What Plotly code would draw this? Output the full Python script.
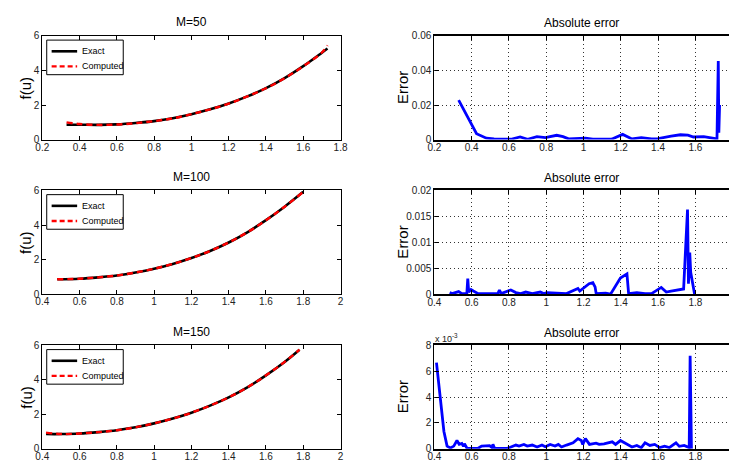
import plotly.graph_objects as go

# ---------------- data ----------------
# f(u): exact curve and computed approximation for three grid sizes
U50 = [0.33, 0.4, 0.5, 0.6, 0.7, 0.8, 0.9, 1.0, 1.1, 1.2, 1.3, 1.4, 1.5, 1.6, 1.7, 1.73]
EXACT50 = [0.86, 0.86, 0.85, 0.88, 0.96, 1.07, 1.24, 1.47, 1.75, 2.09, 2.5, 2.98, 3.56, 4.25, 5.03, 5.27]
COMPUTED50 = [1.0, 0.9, 0.85, 0.87, 0.95, 1.07, 1.23, 1.47, 1.75, 2.08, 2.5, 2.97, 3.55, 4.24, 5.04, 5.45]

U100 = [0.48, 0.6, 0.7, 0.8, 0.9, 1.0, 1.1, 1.2, 1.3, 1.4, 1.5, 1.6, 1.7, 1.8]
EXACT100 = [0.86, 0.89, 0.97, 1.08, 1.25, 1.47, 1.75, 2.09, 2.5, 2.99, 3.58, 4.28, 5.06, 5.92]
COMPUTED100 = [0.86, 0.89, 0.97, 1.08, 1.25, 1.47, 1.75, 2.09, 2.5, 2.99, 3.58, 4.28, 5.06, 5.92]

U150 = [0.42, 0.5, 0.6, 0.7, 0.8, 0.9, 1.0, 1.1, 1.2, 1.3, 1.4, 1.5, 1.6, 1.7, 1.78]
EXACT150 = [0.85, 0.85, 0.88, 0.96, 1.07, 1.24, 1.47, 1.75, 2.09, 2.5, 2.98, 3.56, 4.26, 5.04, 5.75]
COMPUTED150 = [0.93, 0.85, 0.88, 0.96, 1.07, 1.24, 1.47, 1.75, 2.09, 2.5, 2.98, 3.56, 4.26, 5.04, 5.75]

# absolute error |exact - computed|
ERR50_U = [0.33, 0.426, 0.479, 0.52, 0.61, 0.66, 0.70, 0.75, 0.795, 0.856,
           0.89, 0.92, 1.01, 1.05, 1.15, 1.21, 1.26, 1.31, 1.365, 1.40,
           1.47, 1.52, 1.56, 1.59, 1.645, 1.707, 1.716, 1.723, 1.726, 1.73]
ERR50 = [0.0228, 0.0034, 0.0008, 0.0004, 0.0002, 0.0015, 0.0002, 0.0017, 0.0011, 0.0025,
         0.0017, 0.0004, 0.0008, 0.0002, 0.0002, 0.003, 0.0004, 0.0011, 0.0004, 0.0006,
         0.002, 0.0028, 0.0026, 0.0015, 0.0017, 0.0006, 0.0004, 0.0455, 0.004, 0.02]

ERR100_U = [0.482, 0.495, 0.53, 0.547, 0.574, 0.579, 0.584, 0.596, 0.609, 0.635,
            0.74, 0.749, 0.758, 0.81, 0.837, 0.863, 0.89, 0.907, 0.925, 0.968,
            0.986, 1.004, 1.109, 1.17, 1.18, 1.23, 1.25, 1.262, 1.268, 1.319,
            1.345, 1.398, 1.433, 1.442, 1.486, 1.53, 1.565, 1.617, 1.644, 1.67,
            1.723, 1.737, 1.758, 1.763, 1.77, 1.775, 1.796]
ERR100 = [0.0003, 0.0001, 0.0005, 0.0001, 0.0001, 0.003, 0.0004, 0.0009, 0.0006, 0.0001,
          0.0001, 0.0008, 0.0001, 0.0008, 0.0003, 0.0001, 0.0004, 0.0003, 0.0001, 0.0004,
          0.0001, 0.0003, 0.0001, 0.0011, 0.0006, 0.002, 0.0022, 0.0014, 0.0001, 0.0002,
          0.0, 0.0031, 0.0039, 0.0001, 0.0003, 0.0001, 0.0001, 0.0013, 0.0004, 0.0006,
          0.0009, 0.001, 0.0163, 0.002, 0.008, 0.0042, 0.0]

# M=150 error, in units of 1e-3
ERR150_U = [0.411, 0.433, 0.451, 0.468, 0.486, 0.504, 0.521, 0.533, 0.547, 0.556,
            0.561, 0.574, 0.635, 0.653, 0.696, 0.709, 0.714, 0.723, 0.793, 0.837,
            0.854, 0.88, 0.898, 0.925, 0.951, 0.977, 0.995, 1.021, 1.047, 1.065,
            1.082, 1.109, 1.144, 1.17, 1.188, 1.196, 1.21, 1.232, 1.267, 1.284,
            1.31, 1.354, 1.372, 1.398, 1.42, 1.46, 1.486, 1.51, 1.53, 1.556,
            1.582, 1.609, 1.635, 1.66, 1.696, 1.714, 1.74, 1.767, 1.772, 1.777, 1.779]
ERR150_E3 = [6.67, 3.97, 1.33, 0.2, 0.05, 0.2, 0.63, 0.33, 0.4, 0.18,
             0.38, 0.05, 0.03, 0.2, 0.23, 0.08, 0.33, 0.03, 0.03, 0.28,
             0.2, 0.33, 0.2, 0.28, 0.13, 0.28, 0.15, 0.33, 0.2, 0.33,
             0.13, 0.28, 0.45, 0.78, 0.63, 0.33, 0.78, 0.33, 0.43, 0.33,
             0.38, 0.53, 0.33, 0.63, 0.45, 0.13, 0.25, 0.08, 0.45, 0.25,
             0.33, 0.08, 0.2, 0.08, 0.45, 0.18, 0.25, 0.08, 7.2, 3.2, 0.0]

TITLES_LEFT = ["M=50", "M=100", "M=150"]
TITLE_RIGHT = "Absolute error"

X_TICKS_50 = [0.2, 0.4, 0.6, 0.8, 1.0, 1.2, 1.4, 1.6, 1.8]
X_TICKS = [0.4, 0.6, 0.8, 1.0, 1.2, 1.4, 1.6, 1.8, 2.0]
F_TICKS = [0, 2, 4, 6]
ERR50_TICKS = [0, 0.02, 0.04, 0.06]
ERR100_TICKS = [0, 0.005, 0.01, 0.015, 0.02]
ERR150_TICKS = [0, 2, 4, 6, 8]

# ---------------- layout geometry (pixels) ----------------
W, H = 736, 469
FONT = "Liberation Sans, Arial, Helvetica, sans-serif"


def xp(px):
    return px / W


def yp(py):
    return 1 - py / H


LEFT_X = (36, 340)
RIGHT_X0 = 435.7
PX_PER_UNIT = 190.0
ROWS_Y = [(30.7, 137.1), (189.3, 295.7), (348.3, 454.3)]


def fmt(v):
    return "%g" % v


fig = go.Figure()

left_sets = [
    (U50, EXACT50, COMPUTED50, 0.2, X_TICKS_50),
    (U100, EXACT100, COMPUTED100, 0.4, X_TICKS),
    (U150, EXACT150, COMPUTED150, 0.4, X_TICKS),
]
right_sets = [
    (ERR50_U, ERR50, 0.2, X_TICKS_50, ERR50_TICKS, 0.06),
    (ERR100_U, ERR100, 0.4, X_TICKS, ERR100_TICKS, 0.02),
    (ERR150_U, ERR150_E3, 0.4, X_TICKS, ERR150_TICKS, 8),
]

tickfont = dict(family=FONT, size=10, color="#222")
grid_style = dict(showgrid=True, gridcolor="#333", griddash="1px,3px", gridwidth=1)
X_LABEL_SHIFT = -2
annotations = []
shapes = []

for r in range(3):
    top, bot = ROWS_Y[r]
    yd = [yp(bot), yp(top)]
    li = 2 * r + 1
    ri = 2 * r + 2
    lx = "x" if li == 1 else "x%d" % li
    ly = "y" if li == 1 else "y%d" % li
    rx = "x%d" % ri
    ry = "y%d" % ri

    # ---- left panel: f(u)
    u, ex, co, x0, xt = left_sets[r]
    fig.add_trace(go.Scatter(x=u, y=ex, mode="lines", line=dict(color="black", width=2.6, shape="spline"),
                             xaxis=lx, yaxis=ly, showlegend=False, name="Exact"))
    fig.add_trace(go.Scatter(x=u, y=co, mode="lines",
                             line=dict(color="red", width=2.4, dash="6px,4px", shape="spline"),
                             xaxis=lx, yaxis=ly, showlegend=False, name="Computed"))
    fig.layout["xaxis" if li == 1 else "xaxis%d" % li] = dict(
        domain=[xp(LEFT_X[0]), xp(LEFT_X[1])], range=[x0, x0 + 1.6], anchor=ly,
        tickvals=xt, ticktext=[fmt(v) for v in xt], ticks="inside", ticklen=4,
        tickcolor="black", showline=True, linecolor="black", linewidth=1, mirror="ticks",
        showgrid=False, zeroline=False, tickfont=tickfont, ticklabelstandoff=X_LABEL_SHIFT)
    fig.layout["yaxis" if li == 1 else "yaxis%d" % li] = dict(
        domain=yd, range=[0, 6], anchor=lx,
        tickvals=F_TICKS, ticktext=[fmt(v) for v in F_TICKS], ticks="inside", ticklen=4,
        tickcolor="black", showline=True, linecolor="black", linewidth=1, mirror="ticks",
        showgrid=False, zeroline=False, tickfont=tickfont)

    # ---- right panel: absolute error
    eu, ev, rx0, rxt, ryt, ymax = right_sets[r]
    rx1 = rx0 + (W - RIGHT_X0) / PX_PER_UNIT
    fig.add_trace(go.Scatter(x=eu, y=ev, mode="lines", line=dict(color="#0000ff", width=2.8),
                             xaxis=rx, yaxis=ry, showlegend=False, name="Error"))
    fig.layout["xaxis%d" % ri] = dict(
        domain=[xp(RIGHT_X0), 1.0], range=[rx0, rx1], anchor=ry,
        tickvals=[v for v in rxt if v < rx1], ticktext=[fmt(v) for v in rxt if v < rx1],
        ticks="inside", ticklen=4, tickcolor="black", showline=True, linecolor="black",
        linewidth=1.6, mirror="ticks", zeroline=False, tickfont=tickfont,
        ticklabelstandoff=X_LABEL_SHIFT, **grid_style)
    fig.layout["yaxis%d" % ri] = dict(
        domain=yd, range=[0, ymax], anchor=rx,
        tickvals=ryt, ticktext=[fmt(v) for v in ryt], ticks="inside", ticklen=4,
        tickcolor="black", showline=True, linecolor="black", linewidth=1.2, mirror=False,
        zeroline=False, tickfont=tickfont, **grid_style)

    # ---- titles and axis labels
    title_y = [16, 176, 335][r]
    annotations.append(dict(text=TITLES_LEFT[r], x=xp(188), y=yp(title_y), xref="paper", yref="paper",
                            showarrow=False, xanchor="center", yanchor="middle",
                            font=dict(family=FONT, size=12, color="black")))
    annotations.append(dict(text=TITLE_RIGHT, x=xp(586), y=yp(title_y + 1), xref="paper", yref="paper",
                            showarrow=False, xanchor="center", yanchor="middle",
                            font=dict(family=FONT, size=12, color="black")))
    mid = (top + bot) / 2
    annotations.append(dict(text="f(u)", x=xp(19), y=yp(mid), xref="paper", yref="paper",
                            showarrow=False, textangle=-90, xanchor="center", yanchor="middle",
                            font=dict(family=FONT, size=15, color="black")))
    annotations.append(dict(text="Error", x=xp(403), y=yp(mid), xref="paper", yref="paper",
                            showarrow=False, textangle=-90, xanchor="center", yanchor="middle",
                            font=dict(family=FONT, size=15, color="black")))

    # ---- legend box
    bx0, bx1 = 40.5, 118.5
    by0 = top + 4.3
    by1 = by0 + 35.5
    shapes.append(dict(type="rect", xref="paper", yref="paper", x0=xp(bx0), x1=xp(bx1),
                       y0=yp(by1), y1=yp(by0), line=dict(color="black", width=1), fillcolor="white",
                       layer="above"))
    ly1 = by0 + 11.5
    ly2 = by0 + 27
    shapes.append(dict(type="line", xref="paper", yref="paper", x0=xp(45.5), x1=xp(71.5),
                       y0=yp(ly1), y1=yp(ly1), line=dict(color="black", width=2.6), layer="above"))
    shapes.append(dict(type="line", xref="paper", yref="paper", x0=xp(45.5), x1=xp(71.5),
                       y0=yp(ly2), y1=yp(ly2), line=dict(color="red", width=2.4, dash="5px,3px"),
                       layer="above"))
    annotations.append(dict(text="Exact", x=xp(74), y=yp(ly1), xref="paper", yref="paper",
                            showarrow=False, xanchor="left", yanchor="middle",
                            font=dict(family=FONT, size=9, color="black")))
    annotations.append(dict(text="Computed", x=xp(74), y=yp(ly2), xref="paper", yref="paper",
                            showarrow=False, xanchor="left", yanchor="middle",
                            font=dict(family=FONT, size=9, color="black")))

# exponent label for the M=150 error axis
annotations.append(dict(text="x 10<sup>-3</sup>", x=xp(434), y=yp(341), xref="paper", yref="paper",
                        showarrow=False, xanchor="left", yanchor="middle",
                        font=dict(family=FONT, size=9, color="#222")))

fig.update_layout(
    width=W, height=H,
    margin=dict(l=0, r=0, t=0, b=0),
    paper_bgcolor="white", plot_bgcolor="white",
    annotations=annotations, shapes=shapes,
    showlegend=False,
)

fig.write_html("out.html")
